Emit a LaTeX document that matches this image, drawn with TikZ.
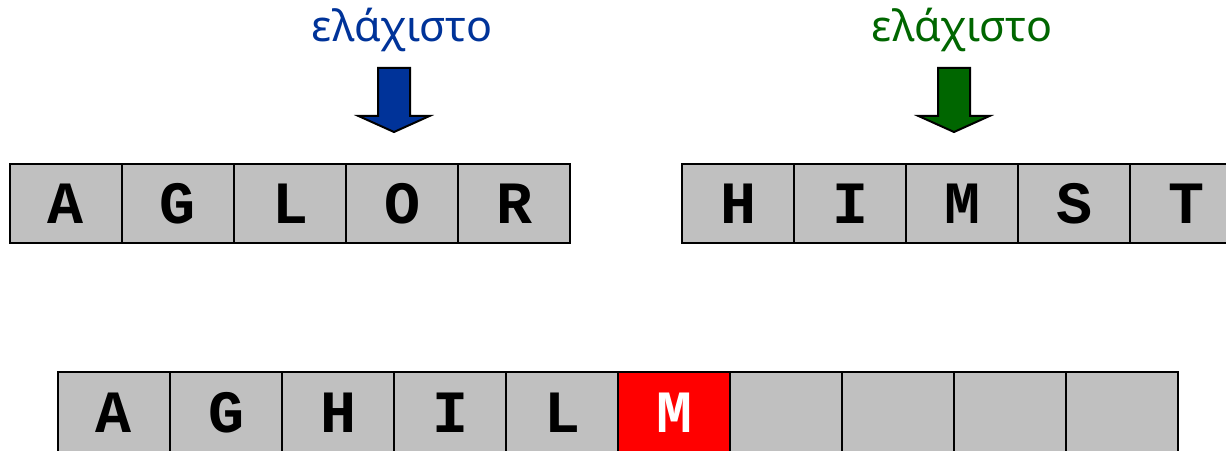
\documentclass[tikz,border=0pt]{standalone}
\usepackage{fontspec}
\usepackage{tikz}
\usetikzlibrary{calc,positioning}
\setmainfont{Noto Sans}
\newfontfamily\cellfont{Liberation Mono}
\definecolor{accentA}{RGB}{0,51,153}
\definecolor{accentC}{RGB}{0,102,0}
\definecolor{accentE}{RGB}{255,0,0}
\definecolor{cellgray}{RGB}{192,192,192}
\tikzset{
  cell/.style={draw=black, line width=2pt, fill=cellgray, outer sep=0pt, inner sep=0pt,
    minimum width=112pt, minimum height=79pt, font=\cellfont\bfseries\fontsize{60}{60}\selectfont},
  lowcell/.style={cell, minimum height=84pt},
  newcell/.style={lowcell, fill=accentE, text=white},
  minarrow/.style={draw=black, line width=2pt, line join=miter},
  minlabel/.style={font=\fontsize{43}{43}\selectfont}
}

\begin{document}
\begin{tikzpicture}[x=1pt, y=1pt]
    \useasboundingbox (0,0) rectangle (1226,450);
    \def\rowtop{246.5}
    \def\rowbot{36}
    \def\cw{112}

    \foreach \ch [count=\i] in {A,G,L,O,R}
      \node[cell] (a\i) at ({66+\cw*(\i-1)},\rowtop) {\ch};
    \foreach \ch [count=\i] in {H,I,M,S,T}
      \node[cell] (b\i) at ({738+\cw*(\i-1)},\rowtop) {\ch};

    \foreach \ch [count=\i] in {A,G,H,I,L}
      \node[lowcell] (c\i) at ({114+\cw*(\i-1)},\rowbot) {\raisebox{3pt}{\ch}};
    \node[newcell, right=0pt of c5] (c6) {\raisebox{3pt}{M}};
    \foreach \i [count=\j from 6] in {7,...,10}
      \node[lowcell, right=0pt of c\j] (c\i) {};

    \foreach \cx/\col/\nm in {394/accentA/A, 954/accentC/C} {
      \coordinate (tip\nm) at (\cx,318);
      \draw[minarrow, fill=\col] (tip\nm) -- ++(35.5,16) -- ++(-19.5,0) -- ++(0,48)
        -- ++(-32,0) -- ++(0,-48) -- ++(-19.5,0) -- cycle;
      \node[minlabel, text=\col] (lab\nm) at ($(tip\nm)+(8,102)$) {ελάχιστο};
    }
\end{tikzpicture}
\end{document}
